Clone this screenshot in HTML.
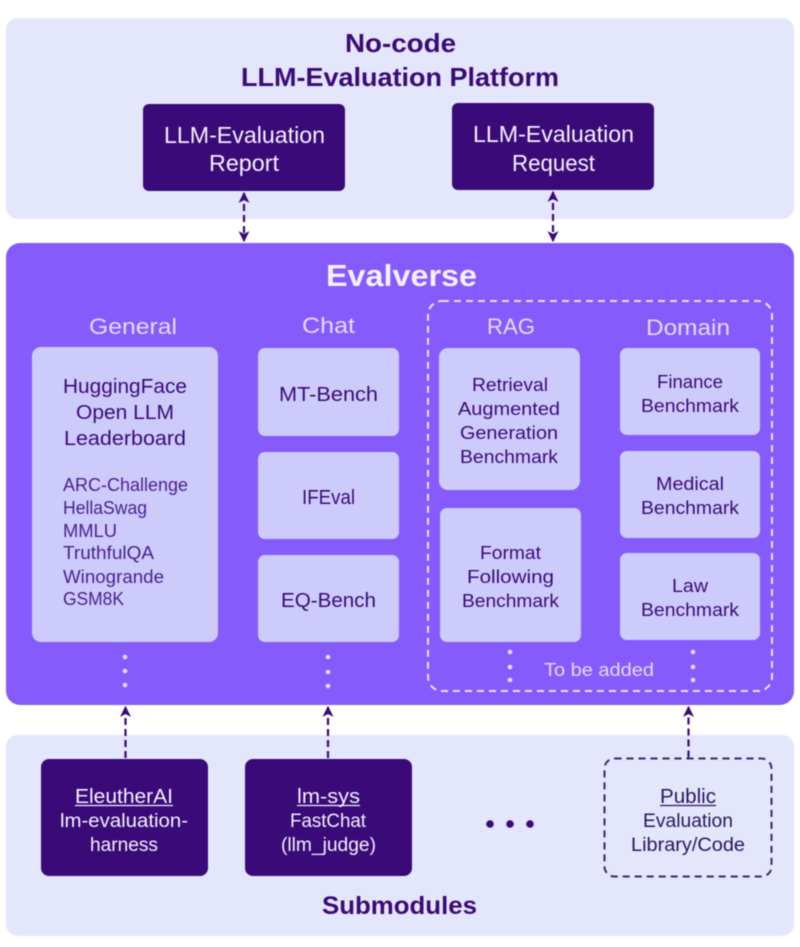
<!DOCTYPE html>
<html><head><meta charset="utf-8"><style>
html,body{margin:0;padding:0;background:#fff;width:800px;height:947px;overflow:hidden}
svg{display:block;filter:blur(0.4px)}
text{font-family:"Liberation Sans",sans-serif;text-anchor:start}
.d{fill:#3a0a78}.w{fill:#f5f0ff}.l{fill:#e3dcff}
.b{font-weight:bold}
</style></head><body>
<svg width="800" height="947" viewBox="0 0 800 947" xmlns="http://www.w3.org/2000/svg">
<defs>
<marker id="a" viewBox="0 0 10 10" refX="9" refY="5" markerWidth="12" markerHeight="11" markerUnits="userSpaceOnUse" orient="auto-start-reverse"><path d="M0 0L10 5L0 10L2.5 5Z" fill="#3a0a78"/></marker>
</defs>
<rect x="6" y="18" width="788" height="201" rx="12" fill="#e4e6fb"/>
<rect x="6" y="735" width="788" height="201" rx="12" fill="#e4e6fb"/>
<rect x="6" y="243" width="788" height="462" rx="14" fill="#865bfc"/>

<rect x="143" y="104" width="202" height="87" rx="6" fill="#3a0a78"/>
<rect x="452" y="103" width="202" height="87" rx="6" fill="#3a0a78"/>

<g fill="#cdcbfb">
<rect x="32" y="347" width="186" height="295" rx="9"/>
<rect x="258" y="348" width="141" height="88" rx="7"/>
<rect x="258" y="452" width="141" height="87" rx="7"/>
<rect x="258" y="555" width="141" height="87" rx="7"/>
<rect x="439" y="348" width="141" height="142" rx="9"/>
<rect x="440" y="508" width="141" height="134" rx="7"/>
<rect x="620" y="348" width="140" height="87" rx="7"/>
<rect x="620" y="451" width="140" height="87" rx="7"/>
<rect x="620" y="553" width="140" height="87" rx="7"/>
</g>
<rect x="428" y="301" width="344" height="390" rx="14" fill="none" stroke="#e8e2ff" stroke-width="2" stroke-dasharray="7 5"/>

<rect x="41" y="759" width="167" height="117" rx="8" fill="#3a0a78"/>
<rect x="245" y="759" width="167" height="117" rx="8" fill="#3a0a78"/>
<rect x="604.5" y="758.5" width="167" height="118" rx="10" fill="none" stroke="#3a2a6a" stroke-width="2" stroke-dasharray="7 5"/>

<g stroke="#3a0a78" stroke-width="2.2" stroke-dasharray="7 4" fill="none">
<path d="M244 193V241" marker-start="url(#a)" marker-end="url(#a)"/>
<path d="M553 192V241" marker-start="url(#a)" marker-end="url(#a)"/>
<path d="M125.500 758V707" marker-end="url(#a)"/>
<path d="M328 758V707" marker-end="url(#a)"/>
<path d="M689 757H688.500V707" marker-end="url(#a)"/>
</g>

<g fill="#e3dcff">
<circle cx="125" cy="657" r="2.300"/><circle cx="125" cy="671" r="2.300"/><circle cx="125" cy="685" r="2.300"/>
<circle cx="328" cy="657" r="2.300"/><circle cx="328" cy="672" r="2.300"/><circle cx="328" cy="686" r="2.300"/>
<circle cx="510" cy="652" r="2.300"/><circle cx="510" cy="667" r="2.300"/><circle cx="510" cy="680" r="2.300"/>
<circle cx="693" cy="652" r="2.300"/><circle cx="693" cy="667" r="2.300"/><circle cx="693" cy="680" r="2.300"/>
</g>
<g fill="#3a0a78"><circle cx="490" cy="824" r="3.800"/><circle cx="510" cy="824" r="3.800"/><circle cx="530" cy="824" r="3.800"/></g>

<g class="d b" font-size="26">
<text x="345" y="52" textLength="111" lengthAdjust="spacingAndGlyphs">No-code</text>
<text x="241" y="86" textLength="318" lengthAdjust="spacingAndGlyphs">LLM-Evaluation Platform</text>
</g>
<g class="w" font-size="23">
<text x="164" y="143" textLength="161" lengthAdjust="spacingAndGlyphs">LLM-Evaluation</text>
<text x="209" y="171" textLength="70" lengthAdjust="spacingAndGlyphs">Report</text>
<text x="473" y="142" textLength="161" lengthAdjust="spacingAndGlyphs">LLM-Evaluation</text>
<text x="512" y="171" textLength="83" lengthAdjust="spacingAndGlyphs">Request</text>
</g>
<text class="w b" x="326" y="286" font-size="31" textLength="151" lengthAdjust="spacingAndGlyphs">Evalverse</text>
<g class="l" font-size="22">
<text x="89" y="334" textLength="88" lengthAdjust="spacingAndGlyphs">General</text>
<text x="302" y="333" textLength="53" lengthAdjust="spacingAndGlyphs">Chat</text>
<text x="487" y="334" textLength="48" lengthAdjust="spacingAndGlyphs">RAG</text>
<text x="646" y="335" textLength="84" lengthAdjust="spacingAndGlyphs">Domain</text>
</g>
<g class="d" font-size="20">
<text x="63" y="393" textLength="124" lengthAdjust="spacingAndGlyphs">HuggingFace</text>
<text x="76" y="419" textLength="98" lengthAdjust="spacingAndGlyphs">Open LLM</text>
<text x="64" y="445" textLength="122" lengthAdjust="spacingAndGlyphs">Leaderboard</text>
<text x="279" y="401" textLength="99" lengthAdjust="spacingAndGlyphs">MT-Bench</text>
<text x="302" y="504" textLength="53" lengthAdjust="spacingAndGlyphs">IFEval</text>
<text x="281" y="607" textLength="95" lengthAdjust="spacingAndGlyphs">EQ-Bench</text>
</g>
<g fill="#4a1f92" font-size="18">
<text x="63" y="491" textLength="125" lengthAdjust="spacingAndGlyphs">ARC-Challenge</text>
<text x="63" y="514" textLength="84" lengthAdjust="spacingAndGlyphs">HellaSwag</text>
<text x="63" y="537" textLength="54" lengthAdjust="spacingAndGlyphs">MMLU</text>
<text x="63" y="559" textLength="91" lengthAdjust="spacingAndGlyphs">TruthfulQA</text>
<text x="63" y="583" textLength="101" lengthAdjust="spacingAndGlyphs">Winogrande</text>
<text x="63" y="605" textLength="61" lengthAdjust="spacingAndGlyphs">GSM8K</text>
</g>
<g class="d" font-size="18.500">
<text x="472" y="391" textLength="76" lengthAdjust="spacingAndGlyphs">Retrieval</text>
<text x="458" y="415" textLength="102" lengthAdjust="spacingAndGlyphs">Augmented</text>
<text x="460" y="439" textLength="98" lengthAdjust="spacingAndGlyphs">Generation</text>
<text x="460" y="463" textLength="98" lengthAdjust="spacingAndGlyphs">Benchmark</text>
<text x="480" y="559" textLength="61" lengthAdjust="spacingAndGlyphs">Format</text>
<text x="467" y="583" textLength="87" lengthAdjust="spacingAndGlyphs">Following</text>
<text x="462" y="607" textLength="97" lengthAdjust="spacingAndGlyphs">Benchmark</text>
<text x="657" y="388" textLength="66" lengthAdjust="spacingAndGlyphs">Finance</text>
<text x="641" y="412" textLength="98" lengthAdjust="spacingAndGlyphs">Benchmark</text>
<text x="656" y="490" textLength="68" lengthAdjust="spacingAndGlyphs">Medical</text>
<text x="641" y="514" textLength="98" lengthAdjust="spacingAndGlyphs">Benchmark</text>
<text x="672" y="592" textLength="36" lengthAdjust="spacingAndGlyphs">Law</text>
<text x="641" y="616" textLength="98" lengthAdjust="spacingAndGlyphs">Benchmark</text>
</g>
<text class="l" x="544" y="676" font-size="18" textLength="110" lengthAdjust="spacingAndGlyphs">To be added</text>

<g class="w" font-size="19">
<text x="75" y="803" font-size="20" textLength="98" lengthAdjust="spacingAndGlyphs">EleutherAI</text>
<text x="60" y="827" textLength="128" lengthAdjust="spacingAndGlyphs">lm-evaluation-</text>
<text x="90" y="851" textLength="68" lengthAdjust="spacingAndGlyphs">harness</text>
<text x="297" y="803" font-size="20" textLength="63" lengthAdjust="spacingAndGlyphs">lm-sys</text>
<text x="290" y="827" textLength="76" lengthAdjust="spacingAndGlyphs">FastChat</text>
<text x="281" y="851" textLength="95" lengthAdjust="spacingAndGlyphs">(llm_judge)</text>
</g>
<g stroke="#f5f0ff" stroke-width="1.300"><path d="M75 805.500H173M297 805.500H360"/></g>
<g class="d" font-size="19" style="fill:#2a1660">
<text x="660" y="803" font-size="20" textLength="56" lengthAdjust="spacingAndGlyphs">Public</text>
<text x="643" y="827" textLength="90" lengthAdjust="spacingAndGlyphs">Evaluation</text>
<text x="631" y="851" textLength="114" lengthAdjust="spacingAndGlyphs">Library/Code</text>
</g>
<path d="M660 805.500H716" stroke="#2a1660" stroke-width="1.300"/>
<text class="d b" x="322" y="914" font-size="25" textLength="155" lengthAdjust="spacingAndGlyphs">Submodules</text>
</svg>
</body></html>
